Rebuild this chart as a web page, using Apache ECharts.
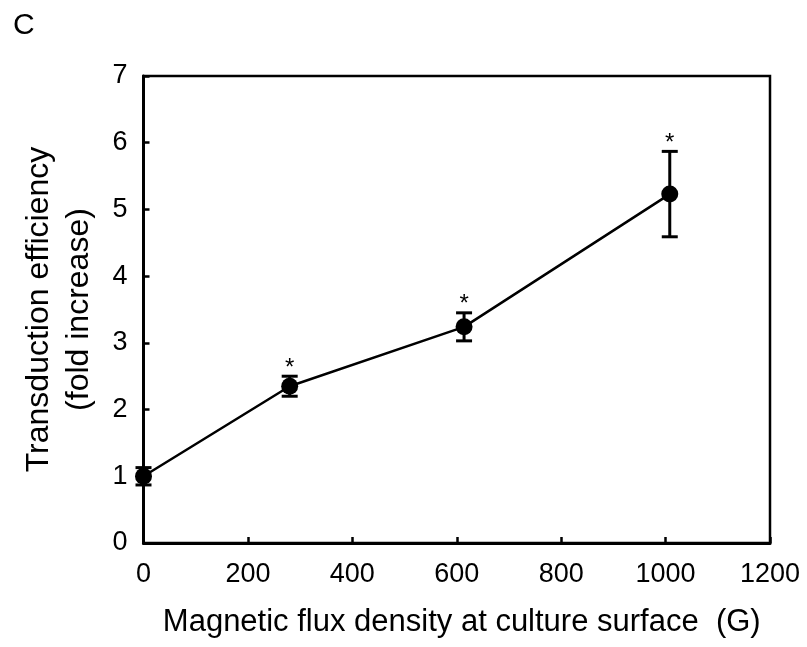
<!DOCTYPE html>
<html>
<head>
<meta charset="utf-8">
<script src="https://cdn.jsdelivr.net/npm/echarts@6/dist/echarts.min.js"></script>
<style>
  html, body { margin: 0; padding: 0; background: #fff; }
  #chart { width: 807px; height: 647px; }
</style>
</head>
<body>
<div id="chart"></div>
<script>
  // 数据
  var fluxDensity = [0, 280, 614, 1008];
  var foldIncrease = [1.0, 2.35, 3.24, 5.23];
  var errorSize = [0.13, 0.15, 0.21, 0.64];
  var significant = [false, true, true, true];

  var points = fluxDensity.map(function (x, i) { return [x, foldIncrease[i]]; });
  var errData = fluxDensity.map(function (x, i) {
    return [x, foldIncrease[i] - errorSize[i], foldIncrease[i] + errorSize[i], significant[i] ? 1 : 0];
  });

  var font = 'Liberation Sans, Arial, sans-serif';
  var chart = echarts.init(document.getElementById('chart'));

  var option = {
    backgroundColor: '#fff',
    animation: false,
    graphic: [
      { type: 'text', left: 13, top: 11, style: { text: 'C', font: '30px ' + font, fill: '#000' } }
    ],
    grid: {
      left: 143.5, right: 37, top: 76, bottom: 104,
      show: true, borderColor: '#000', borderWidth: 2.5
    },
    xAxis: {
      type: 'value', min: 0, max: 1200, interval: 200,
      name: 'Magnetic flux density at culture surface  (G)',
      nameLocation: 'middle', nameGap: 64,
      nameTextStyle: { fontFamily: font, fontSize: 31, color: '#000', padding: [0, 0, 0, 10] },
      axisLine: { lineStyle: { color: '#000', width: 3 } },
      axisTick: { inside: true, length: 6, lineStyle: { color: '#000', width: 2.5 } },
      axisLabel: {
        fontFamily: font, fontSize: 27, color: '#000', margin: 18,
        formatter: function (v) { return String(v); }
      },
      splitLine: { show: false }
    },
    yAxis: {
      type: 'value', min: 0, max: 7, interval: 1,
      name: 'Transduction efficiency\n(fold increase)',
      nameLocation: 'middle', nameGap: 44, nameRotate: 90,
      nameTextStyle: { fontFamily: font, fontSize: 32, color: '#000', lineHeight: 40 },
      axisLine: { lineStyle: { color: '#000', width: 3 } },
      axisTick: { inside: true, length: 6, lineStyle: { color: '#000', width: 2.5 } },
      axisLabel: { fontFamily: font, fontSize: 27, color: '#000', margin: 16 },
      splitLine: { show: false }
    },
    series: [
      {
        type: 'line',
        data: points,
        symbol: 'circle',
        symbolSize: 17,
        itemStyle: { color: '#000' },
        lineStyle: { color: '#000', width: 2.5 },
        z: 3
      },
      {
        type: 'custom',
        data: errData,
        z: 2,
        renderItem: function (params, api) {
          var x = api.value(0);
          var lo = api.coord([x, api.value(1)]);
          var hi = api.coord([x, api.value(2)]);
          var hw = 8;
          var style = { stroke: '#000', lineWidth: 3 };
          var children = [
            { type: 'line', shape: { x1: lo[0], y1: lo[1], x2: hi[0], y2: hi[1] }, style: style },
            { type: 'line', shape: { x1: lo[0] - hw, y1: lo[1], x2: lo[0] + hw, y2: lo[1] }, style: style },
            { type: 'line', shape: { x1: hi[0] - hw, y1: hi[1], x2: hi[0] + hw, y2: hi[1] }, style: style }
          ];
          if (api.value(3) === 1) {
            children.push({
              type: 'text',
              style: {
                text: '*', x: hi[0], y: hi[1] - 8,
                font: '24px ' + font, fill: '#000',
                align: 'center', verticalAlign: 'middle'
              }
            });
          }
          return { type: 'group', children: children };
        }
      }
    ]
  };
  chart.setOption(option);
</script>
</body>
</html>
